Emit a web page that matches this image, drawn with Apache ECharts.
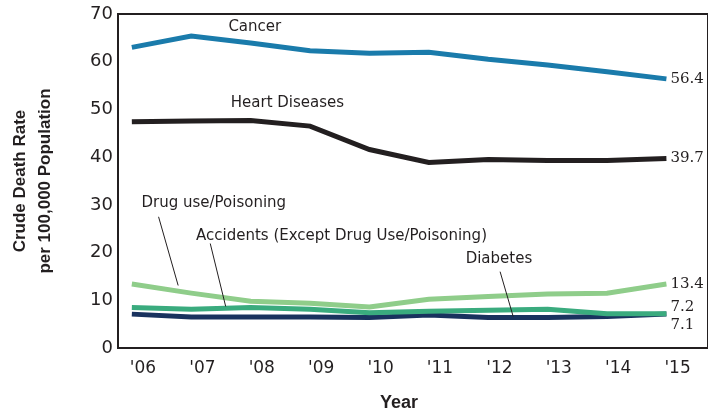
<!DOCTYPE html>
<html>
	<head>
		<meta charset="utf-8">
		<title>Crude Death Rate</title>
		<script src="https://cdn.jsdelivr.net/npm/echarts@6/dist/echarts.min.js" type="text/javascript" charset="utf-8"></script>
		<style>
			html, body { margin: 0; padding: 0; background: #fff; }
		</style>
	</head>
	<body>
		<div id="main" style="width: 708px;height:417px;"></div>
		<script type="text/javascript">
			// data
			var years = [2006, 2007, 2008, 2009, 2010, 2011, 2012, 2013, 2014, 2015];
			var cancer = [63.0, 65.4, 63.9, 62.3, 61.8, 62.0, 60.5, 59.3, 57.9, 56.4];
			var heart = [47.4, 47.6, 47.7, 46.5, 41.6, 38.9, 39.5, 39.3, 39.3, 39.7];
			var drug = [13.4, 11.5, 9.8, 9.4, 8.6, 10.2, 10.8, 11.3, 11.5, 13.4];
			var accidents = [8.5, 8.1, 8.5, 8.1, 7.4, 7.7, 7.9, 8.1, 7.2, 7.2];
			var diabetes = [7.1, 6.5, 6.5, 6.5, 6.4, 6.9, 6.4, 6.4, 6.6, 7.1];
			var yTicks = [0, 10, 20, 30, 40, 50, 60, 70];

			var ink = '#231f20';
			var sans = 'DejaVu Sans';
			var serif = 'DejaVu Serif';
			var bold = 'Liberation Sans';

			function pairs(vals) {
				return years.map(function (y, i) { return [y, vals[i]]; });
			}

			// text note placed in data space
			function note(text, x, y) {
				return {
					coord: [x, y],
					symbol: 'circle',
					symbolSize: 0,
					label: { show: true, position: 'inside', formatter: text, color: ink, fontFamily: sans, fontSize: 15 }
				};
			}
			// thin leader line
			function leader(x1, y1, x2, y2) {
				return [{ coord: [x1, y1] }, { coord: [x2, y2] }];
			}

			function line(name, vals, color, endOffset, notes, leaders) {
				var s = {
					name: name,
					type: 'line',
					data: pairs(vals),
					showSymbol: false,
					symbol: 'none',
					silent: true,
					lineStyle: { color: color, width: 5, join: 'miter' },
					itemStyle: { color: color },
					endLabel: {
						show: true,
						distance: 4,
						offset: endOffset,
						formatter: function (p) { return p.value[1].toFixed(1); },
						color: ink,
						fontFamily: serif,
						fontSize: 15
					}
				};
				if (notes) {
					s.markPoint = { silent: true, data: notes };
				}
				if (leaders) {
					s.markLine = {
						silent: true,
						symbol: ['none', 'none'],
						label: { show: false },
						lineStyle: { color: ink, width: 1, type: 'solid' },
						data: leaders
					};
				}
				return s;
			}

			var myChart = echarts.init(document.getElementById('main'));
			var option = {
				animation: false,
				grid: {
					left: 114, right: -2, top: 14, bottom: 68,
					show: true, borderColor: ink, borderWidth: 2, backgroundColor: 'transparent'
				},
				xAxis: {
					type: 'value',
					min: 2005.767,
					max: 2015.7,
					name: 'Year',
					nameLocation: 'middle',
					nameGap: 46,
					nameTextStyle: { fontFamily: bold, fontWeight: 'bold', fontSize: 18, color: ink, padding: [0, 28, 0, 0] },
					axisLine: { show: true, lineStyle: { color: ink, width: 2 } },
					axisTick: { show: false },
					splitLine: { show: false },
					axisLabel: {
						customValues: years,
						align: 'left',
						padding: [0, 0, 0, -2],
						margin: 12,
						color: ink,
						fontFamily: sans,
						fontSize: 17,
						formatter: function (v) { return "'" + String(v).slice(2); }
					}
				},
				yAxis: {
					type: 'value',
					min: 0,
					max: 70,
					interval: 10,
					name: 'Crude Death Rate\nper 100,000 Population',
					nameLocation: 'middle',
					nameRotate: 90,
					nameGap: 60,
					nameTextStyle: { fontFamily: bold, fontWeight: 'bold', fontSize: 17, lineHeight: 25, color: ink },
					axisLine: { show: true, lineStyle: { color: ink, width: 2 } },
					axisTick: { show: false },
					splitLine: { show: false },
					axisLabel: {
						margin: 5,
						padding: [6, 0, 0, 0],
						color: ink,
						fontFamily: sans,
						fontSize: 18,
						customValues: yTicks
					}
				},
				series: [
					line('Diabetes', diabetes, '#19325e', [0, 11],
						[note('Diabetes', 2012.18, 18.7)],
						[leader(2012.2, 16.0, 2012.42, 6.6)]),
					line('Accidents', accidents, '#3aab7e', [0, -7],
						[note('Accidents (Except Drug Use/Poisoning)', 2009.53, 23.5)],
						[leader(2007.32, 21.9, 2007.58, 8.7)]),
					line('Drug use/Poisoning', drug, '#8fcd8a', [0, 0],
						[note('Drug use/Poisoning', 2007.38, 30.4)],
						[leader(2006.45, 27.5, 2006.78, 13.1)]),
					line('Heart Diseases', heart, ink, [0, 0],
						[note('Heart Diseases', 2008.62, 51.4)]),
					line('Cancer', cancer, '#1a7bab', [0, 0],
						[note('Cancer', 2008.07, 67.2)])
				]
			};
			myChart.setOption(option);
		</script>
	</body>
</html>
